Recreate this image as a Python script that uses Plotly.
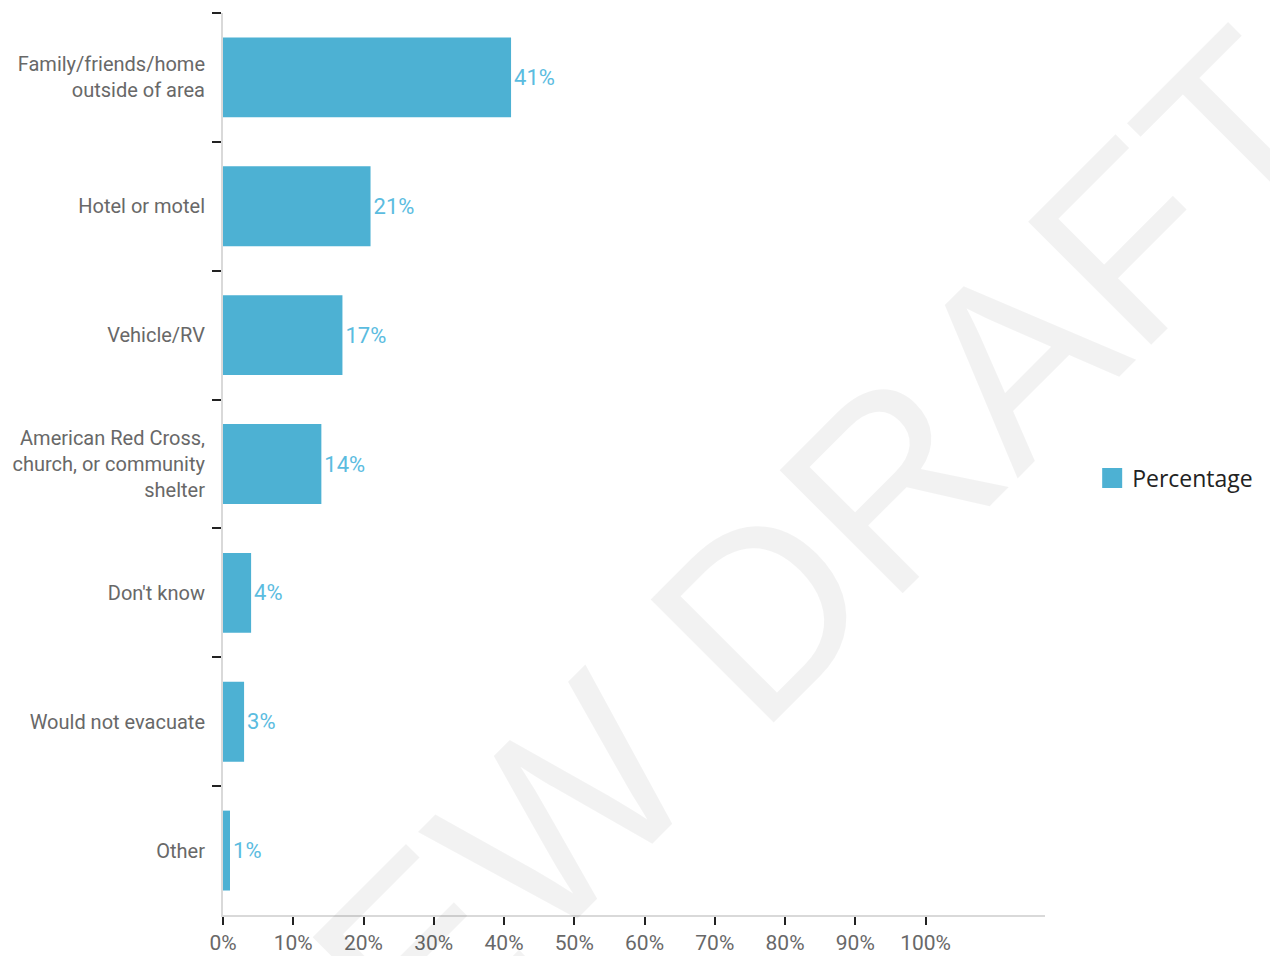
import plotly.graph_objects as go

# Evacuation destination shares (percent)
categories = [
    "Family/friends/home<br>outside of area",
    "Hotel or motel",
    "Vehicle/RV",
    "American Red Cross,<br>church, or community<br>shelter",
    "Don't know",
    "Would not evacuate",
    "Other",
]
values = [41, 21, 17, 14, 4, 3, 1]
value_labels = ["41%", "21%", "17%", "14%", "4%", "3%", "1%"]

x_tick_vals = [0, 10, 20, 30, 40, 50, 60, 70, 80, 90, 100]
x_tick_text = ["0%", "10%", "20%", "30%", "40%", "50%", "60%", "70%", "80%", "90%", "100%"]

BAR_COLOR = "#4db1d3"
LABEL_BLUE = "#5bbcdf"
TEXT_GRAY = "#686868"
FONT = "Roboto"

fig = go.Figure()

fig.add_trace(go.Bar(
    y=categories,
    x=values,
    orientation="h",
    marker=dict(color=BAR_COLOR, line=dict(width=0)),
    text=value_labels,
    textposition="outside",
    cliponaxis=False,
    textfont=dict(family=FONT, size=22, color=LABEL_BLUE),
    showlegend=False,
    hoverinfo="skip",
))

# legend entry with a larger square swatch
fig.add_trace(go.Scatter(
    x=[None], y=[None],
    mode="markers",
    marker=dict(symbol="square", size=16, color=BAR_COLOR,
                line=dict(color=BAR_COLOR, width=4)),
    name="Percentage",
    showlegend=True,
))

fig.update_layout(
    width=1270,
    height=956,
    margin=dict(l=223, r=225, t=13, b=41),
    paper_bgcolor="white",
    plot_bgcolor="white",
    bargap=0.38,
    font=dict(family=FONT, color=TEXT_GRAY),
    legend=dict(
        x=1.0574, xanchor="left",
        y=0.4845, yanchor="middle",
        itemsizing="trace",
        font=dict(family="Open Sans", size=23, color="#222222"),
        bgcolor="rgba(0,0,0,0)",
    ),
    xaxis=dict(
        range=[0, 117],
        tickmode="array",
        tickvals=x_tick_vals,
        ticktext=x_tick_text,
        ticks="outside",
        ticklen=8,
        tickwidth=2,
        tickcolor="#222222",
        showline=True,
        linecolor="#d9d9d9",
        linewidth=2,
        showgrid=False,
        zeroline=False,
        automargin=False,
        tickfont=dict(family=FONT, size=21, color=TEXT_GRAY),
        fixedrange=True,
    ),
    yaxis=dict(
        categoryorder="array",
        categoryarray=categories,
        range=[6.5, -0.5],
        tickson="boundaries",
        ticks="outside",
        ticklen=9,
        tickwidth=2,
        tickcolor="#222222",
        showline=True,
        linecolor="#d9d9d9",
        linewidth=2,
        showgrid=False,
        zeroline=False,
        automargin=False,
        ticklabelstandoff=12,
        tickfont=dict(family=FONT, size=20, color=TEXT_GRAY),
        fixedrange=True,
    ),
    annotations=[
        dict(
            text="PREVIEW DRAFT",
            xref="paper", yref="paper",
            x=0.4076, y=0.1109,
            xanchor="center", yanchor="middle",
            textangle=-45,
            showarrow=False,
            font=dict(family="Liberation Sans", size=253, color="rgba(0,0,0,0.05)"),
        )
    ],
)

fig.write_html("out.html")
